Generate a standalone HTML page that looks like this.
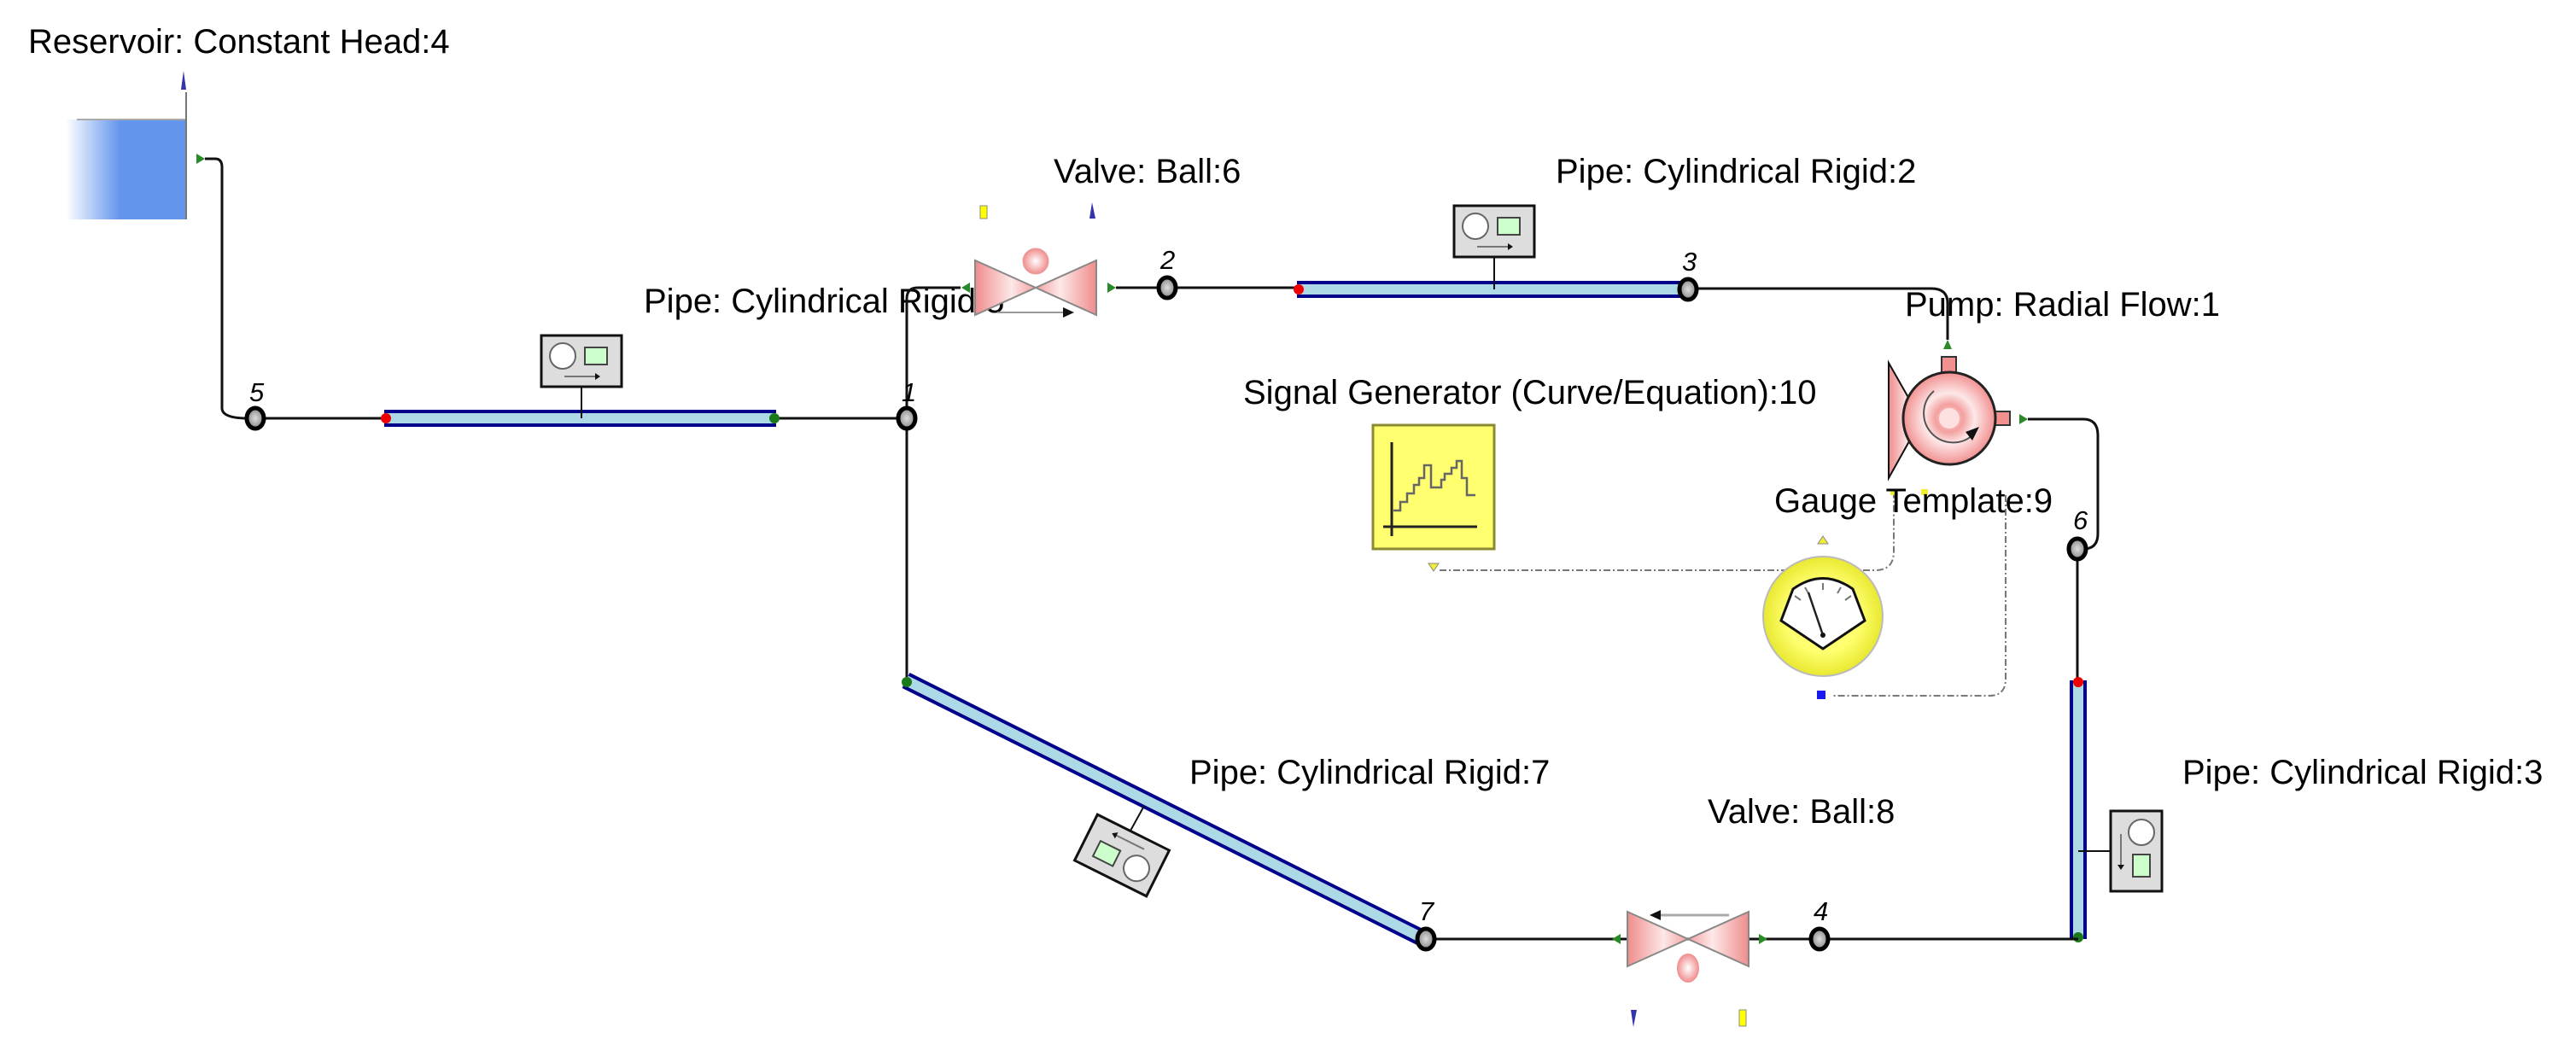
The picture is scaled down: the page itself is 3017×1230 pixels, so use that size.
<!DOCTYPE html>
<html><head><meta charset="utf-8"><style>
html,body{margin:0;padding:0;background:#fff;}
svg{display:block;}
text{font-family:"Liberation Sans",Arial,sans-serif;font-size:40px;fill:#000;}
.n{font-style:italic;font-size:31px;}
</style></head><body>
<svg width="3017" height="1230" viewBox="0 0 3017 1230" xmlns="http://www.w3.org/2000/svg">
<defs>
<linearGradient id="res" x1="0" x2="1" y1="0" y2="0">
<stop offset="0" stop-color="#fff"/><stop offset="0.45" stop-color="#6495ED"/><stop offset="1" stop-color="#6495ED"/></linearGradient>
<linearGradient id="vl" x1="0" x2="1"><stop offset="0" stop-color="#f08c8c"/><stop offset="0.6" stop-color="#fde8e8"/><stop offset="1" stop-color="#f5a0a0"/></linearGradient>
<linearGradient id="vr" x1="1" x2="0"><stop offset="0" stop-color="#f08c8c"/><stop offset="0.6" stop-color="#fde8e8"/><stop offset="1" stop-color="#f5a0a0"/></linearGradient>
<radialGradient id="ball"><stop offset="0" stop-color="#fff"/><stop offset="1" stop-color="#f08c8c"/></radialGradient>
<radialGradient id="pump"><stop offset="0" stop-color="#fde0e0"/><stop offset="0.3" stop-color="#f4a0a0"/><stop offset="0.55" stop-color="#fde8e8"/><stop offset="1" stop-color="#f29090"/></radialGradient>
<radialGradient id="node"><stop offset="0" stop-color="#ddd"/><stop offset="1" stop-color="#888"/></radialGradient>
<radialGradient id="gy"><stop offset="0.6" stop-color="#ffff70"/><stop offset="1" stop-color="#e8e830"/></radialGradient>
<g id="box">
<rect x="-47" y="-30" width="94" height="60" fill="#ddd" stroke="#111" stroke-width="3"/>
<circle cx="-22" cy="-6" r="15" fill="#fff" stroke="#666" stroke-width="2"/>
<rect x="4" y="-16" width="26" height="20" fill="#ccffcc" stroke="#444" stroke-width="2"/>
<line x1="-20" y1="18" x2="16" y2="18" stroke="#777" stroke-width="2"/>
<path d="M16 14 L22 18 L16 22Z" fill="#111"/>
</g>
<g id="valve">
<path d="M-71 -32 L0 0 L-71 32Z" fill="url(#vl)" stroke="#888" stroke-width="2"/>
<path d="M71 -32 L0 0 L71 32Z" fill="url(#vr)" stroke="#888" stroke-width="2"/>
</g>
</defs>

<!-- Reservoir -->
<rect x="77" y="140" width="141" height="117" fill="url(#res)"/>
<line x1="90" y1="140" x2="218" y2="140" stroke="#aaa" stroke-width="2"/>
<line x1="218" y1="108" x2="218" y2="257" stroke="#777" stroke-width="2"/>
<path d="M212 105 L215 83 L218 105Z" fill="#3333aa"/>
<path d="M230 180 L240 186 L230 192Z" fill="#2a8a2a"/>
<path d="M240 186 L252 186 Q260 186 260 196 L260 478 Q260 490 290 490" fill="none" stroke="#111" stroke-width="3"/>

<!-- pipe 5-1 -->
<line x1="299" y1="490" x2="1062" y2="490" stroke="#111" stroke-width="3"/>
<line x1="450" y1="490" x2="909" y2="490" stroke="#00008b" stroke-width="20"/>
<line x1="450" y1="490" x2="909" y2="490" stroke="#add8e6" stroke-width="12"/>
<circle cx="452" cy="490" r="6" fill="#e00"/><circle cx="907" cy="490" r="6" fill="#1a7a1a"/>
<line x1="681" y1="453" x2="681" y2="490" stroke="#111" stroke-width="2"/>
<use href="#box" x="681" y="423"/>

<text x="754" y="366">Pipe: Cylindrical Rigid:5</text>

<!-- left vertical from node1 -->
<path d="M1125 337 L1075 337 Q1062 337 1062 350 L1062 797" fill="none" stroke="#111" stroke-width="3"/>
<path d="M1136 331 L1126 337 L1136 343Z" fill="#2a8a2a"/>

<!-- valve 6 -->
<use href="#valve" x="1213" y="337"/>
<circle cx="1213" cy="306" r="15" fill="url(#ball)" stroke="#e8a0a0"/>
<line x1="1168" y1="366" x2="1245" y2="366" stroke="#999" stroke-width="2"/>
<path d="M1245 360 L1258 366 L1245 372Z" fill="#111"/>
<rect x="1148" y="241" width="8" height="15" fill="#ff0" stroke="#888"/>
<path d="M1276 256 L1279 237 L1283 256Z" fill="#3333aa"/>
<path d="M1297 331 L1307 337 L1297 343Z" fill="#2a8a2a"/>
<line x1="1307" y1="337" x2="1977" y2="337" stroke="#111" stroke-width="3"/>

<!-- pipe 2 -->
<line x1="1519" y1="339" x2="1977" y2="339" stroke="#00008b" stroke-width="20"/>
<line x1="1519" y1="339" x2="1977" y2="339" stroke="#add8e6" stroke-width="12"/>
<circle cx="1521" cy="339" r="6" fill="#e00"/>
<line x1="1750" y1="301" x2="1750" y2="339" stroke="#111" stroke-width="2"/>
<use href="#box" x="1750" y="271"/>
<path d="M1977 338 L2262 338 Q2281 338 2281 355 L2281 398" fill="none" stroke="#111" stroke-width="3"/>
<path d="M2276 409 L2281 398 L2286 409Z" fill="#2a8a2a"/>

<!-- pump -->
<path d="M2212 425 L2212 560 L2250 492Z" fill="url(#vl)" stroke="#111" stroke-width="2"/>
<rect x="2274" y="418" width="17" height="22" fill="#f29090" stroke="#333" stroke-width="2"/>
<rect x="2330" y="482" width="24" height="16" fill="#f29090" stroke="#333" stroke-width="2"/>
<circle cx="2283" cy="490" r="54" fill="url(#pump)" stroke="#222" stroke-width="3"/>
<circle cx="2283" cy="490" r="12" fill="#fde0e0"/>
<path d="M2265 458 A34 34 0 1 0 2310 510" fill="none" stroke="#555" stroke-width="2"/>
<path d="M2302 506 L2318 500 L2310 516Z" fill="#111"/>
<path d="M2365 485 L2375 491 L2365 497Z" fill="#2a8a2a"/>
<path d="M2375 491 L2440 491 Q2457 491 2457 510 L2457 625 Q2457 643 2440 643" fill="none" stroke="#111" stroke-width="3"/>

<!-- signal generator -->
<rect x="1608" y="498" width="142" height="145" fill="#ffff70" stroke="#8a8a30" stroke-width="3"/>
<path d="M1630 518 L1630 628 M1620 617 L1730 617" stroke="#222" stroke-width="3" fill="none"/>
<path d="M1632 598 L1640 598 L1640 588 L1648 588 L1648 578 L1656 578 L1656 568 L1662 568 L1662 560 L1668 560 L1668 545 L1676 545 L1676 571 L1688 571 L1688 562 L1692 562 L1692 555 L1700 555 L1700 548 L1706 548 L1706 540 L1712 540 L1712 560 L1718 560 L1718 580 L1728 580" fill="none" stroke="#666" stroke-width="2.5"/>
<path d="M1673 660 L1685 660 L1679 669Z" fill="#ee3" stroke="#888"/>
<path d="M1686 668 L2196 668 Q2218 668 2218 646 L2218 578" fill="none" stroke="#777" stroke-width="2" stroke-dasharray="8 3 2 3"/>
<rect x="2214" y="573" width="8" height="7" fill="#ee3"/><rect x="2250" y="573" width="8" height="7" fill="#ee3"/>
<path d="M2349 580 L2349 795 Q2349 815 2330 815 L2145 815" fill="none" stroke="#777" stroke-width="2" stroke-dasharray="8 3 2 3"/>
<rect x="2128" y="809" width="10" height="10" fill="#1a1aee"/>

<!-- gauge template -->
<path d="M2129 637 L2135 628 L2141 637Z" fill="#ee3" stroke="#888"/>
<circle cx="2135" cy="722" r="70" fill="url(#gy)" stroke="#bbb" stroke-width="2"/>
<path d="M2086 727 L2135 760 L2184 727 L2170 690 Q2135 665 2100 690Z" fill="#fff" stroke="#111" stroke-width="3"/>
<g stroke="#777" stroke-width="2"><path d="M2102 698 L2109 703 M2114 688 L2118 695 M2135 683 L2135 691 M2156 688 L2152 695 M2168 698 L2161 703"/></g>
<path d="M2118 694 L2135 744" stroke="#222" stroke-width="2.5"/>
<circle cx="2135" cy="744" r="3" fill="#111"/>

<!-- node6 & pipe 3 -->
<line x1="2433" y1="643" x2="2433" y2="797" stroke="#111" stroke-width="3"/>
<line x1="2434" y1="797" x2="2434" y2="1100" stroke="#00008b" stroke-width="20"/>
<line x1="2434" y1="797" x2="2434" y2="1100" stroke="#add8e6" stroke-width="12"/>
<circle cx="2434" cy="799" r="6" fill="#e00"/><circle cx="2434" cy="1098" r="6" fill="#1a7a1a"/>
<line x1="2434" y1="997" x2="2472" y2="997" stroke="#111" stroke-width="2"/>
<use href="#box" transform="translate(2502 997) rotate(90)"/>

<!-- pipe 7 -->
<line x1="1061" y1="797" x2="1668" y2="1100" stroke="#00008b" stroke-width="20"/>
<line x1="1061" y1="797" x2="1668" y2="1100" stroke="#add8e6" stroke-width="12"/>
<circle cx="1062" cy="799" r="6" fill="#1a7a1a"/>
<line x1="1340" y1="944" x2="1324" y2="973" stroke="#111" stroke-width="2"/>
<use href="#box" transform="translate(1314 1002) rotate(206.5)"/>

<!-- bottom line -->
<line x1="1668" y1="1100" x2="2434" y2="1100" stroke="#111" stroke-width="3"/>
<use href="#valve" x="1977" y="1100"/>
<path d="M1898 1094 L1888 1100 L1898 1106Z" fill="#2a8a2a"/>
<path d="M2060 1094 L2070 1100 L2060 1106Z" fill="#2a8a2a"/>
<ellipse cx="1977" cy="1134" rx="13" ry="17" fill="url(#ball)"/>
<line x1="1945" y1="1072" x2="2025" y2="1072" stroke="#aaa" stroke-width="3"/>
<path d="M1945 1066 L1932 1072 L1945 1078Z" fill="#111"/>
<path d="M1910 1183 L1913 1203 L1917 1183Z" fill="#3333aa"/>
<rect x="2037" y="1183" width="8" height="19" fill="#ff0" stroke="#888"/>

<!-- nodes -->
<g fill="url(#node)" stroke="#000" stroke-width="5">
<ellipse cx="299" cy="490" rx="10" ry="12"/>
<ellipse cx="1062" cy="490" rx="10" ry="12"/>
<ellipse cx="1367" cy="337" rx="10" ry="12"/>
<ellipse cx="1977" cy="339" rx="10" ry="12"/>
<ellipse cx="2433" cy="643" rx="10" ry="12"/>
<ellipse cx="1670" cy="1100" rx="10" ry="12"/>
<ellipse cx="2131" cy="1100" rx="10" ry="12"/>
</g>
<text class="n" x="292" y="470">5</text>
<text class="n" x="1056" y="470">1</text>
<text class="n" x="1359" y="315">2</text>
<text class="n" x="1970" y="317">3</text>
<text class="n" x="2428" y="620">6</text>
<text class="n" x="1662" y="1078">7</text>
<text class="n" x="2124" y="1078">4</text>

<!-- labels -->
<text x="33" y="62">Reservoir: Constant Head:4</text>
<text x="1234" y="214">Valve: Ball:6</text>
<text x="1822" y="214">Pipe: Cylindrical Rigid:2</text>
<text x="2231" y="370">Pump: Radial Flow:1</text>
<text x="1456" y="473">Signal Generator (Curve/Equation):10</text>
<text x="2078" y="600">Gauge Template:9</text>
<text x="1393" y="918">Pipe: Cylindrical Rigid:7</text>
<text x="2000" y="964">Valve: Ball:8</text>
<text x="2556" y="918">Pipe: Cylindrical Rigid:3</text>
</svg>
</body></html>
